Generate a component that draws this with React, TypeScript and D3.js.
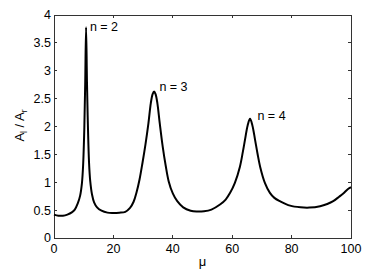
import React from 'react';
import * as d3 from 'd3';

// μ values and ratio A_l / A_r
const muValues = [
  0, 1.5, 3, 4.5, 6, 7, 8, 8.8, 9.4, 9.8, 10.2, 10.5, 10.8, 11.1, 11.4, 11.8, 12.2, 12.8, 13.5, 14.5, 16, 18, 20,
  22, 24, 25.6, 26.8, 27.8, 28.8, 29.8, 30.8, 31.8, 32.6, 33.2, 33.7, 34.2, 34.8, 35.6, 36.6, 37.6, 38.6, 40,
  41.5, 43.5, 46, 48, 50.5, 53, 55.9, 57.8, 59.3, 60.9, 62.6, 63.6, 64.3, 65.2, 66, 66.8, 67.7, 68.5, 69.4,
  71, 72.7, 74.2, 76.1, 79.5, 83, 86, 89.6, 92, 94, 96, 97.4, 99, 100,
];
const ratioValues = [
  0.42, 0.40, 0.40, 0.42, 0.46, 0.51, 0.62, 0.76, 0.98, 1.3, 1.95, 2.75, 3.78, 2.8, 2.05, 1.35, 1.02, 0.78, 0.64, 0.55, 0.49, 0.455, 0.45,
  0.455, 0.47, 0.54, 0.65, 0.82, 1.05, 1.35, 1.68, 2.06, 2.42, 2.58, 2.63, 2.58, 2.42, 2.06, 1.64, 1.3, 1.02, 0.8,
  0.66, 0.55, 0.49, 0.475, 0.48, 0.51, 0.6, 0.69, 0.81, 0.99, 1.28, 1.55, 1.76, 2.02, 2.14, 2.02, 1.76, 1.52, 1.28,
  0.99, 0.81, 0.72, 0.66, 0.58, 0.55, 0.545, 0.57, 0.61, 0.66, 0.74, 0.8, 0.88, 0.91,
];

const peakLabels = ['n = 2', 'n = 3', 'n = 4'];
const labelMu = [12.1, 35.5, 68.5];
const labelRatio = [3.79, 2.72, 2.19];

const xTicks = [0, 20, 40, 60, 80, 100];
const yTicks = [0, 0.5, 1, 1.5, 2, 2.5, 3, 3.5, 4];

const W = 382;
const H = 278;
const m = { left: 54, right: 31, top: 15, bottom: 40 };
const font = 'Liberation Sans, Arial, sans-serif';

export default function App() {
  const x = d3.scaleLinear().domain([0, 100]).range([m.left, W - m.right]);
  const y = d3.scaleLinear().domain([0, 4]).range([H - m.bottom, m.top]);

  const pts: [number, number][] = muValues.map((mu, i) => [mu, ratioValues[i]]);
  const line = d3
    .line<[number, number]>()
    .x(d => x(d[0]))
    .y(d => y(d[1]))
    .curve(d3.curveCatmullRom.alpha(0.5));

  const x0 = x(0), x1 = x(100), y0 = y(0), y1 = y(4);
  const tick = 3;
  const axisColor = '#333';
  const fs = 12.5;

  return (
    <svg width={W} height={H} style={{ position: 'absolute', left: 0, top: 0, background: '#fff' }}>
      {/* box */}
      <rect x={x0} y={y1} width={x1 - x0} height={y0 - y1} fill="none" stroke={axisColor} strokeWidth={1} shapeRendering="crispEdges" />
      {xTicks.map(t => (
        <g key={'x' + t}>
          <line x1={x(t)} x2={x(t)} y1={y0} y2={y0 - tick} stroke={axisColor} shapeRendering="crispEdges" />
          <line x1={x(t)} x2={x(t)} y1={y1} y2={y1 + tick} stroke={axisColor} shapeRendering="crispEdges" />
          <text x={x(t)} y={y0 + 15} textAnchor="middle" fontFamily={font} fontSize={fs}>{t}</text>
        </g>
      ))}
      {yTicks.map(t => (
        <g key={'y' + t}>
          <line x1={x0} x2={x0 + tick} y1={y(t)} y2={y(t)} stroke={axisColor} shapeRendering="crispEdges" />
          <line x1={x1} x2={x1 - tick} y1={y(t)} y2={y(t)} stroke={axisColor} shapeRendering="crispEdges" />
          <text x={x0 - 3} y={y(t)} dy="0.35em" textAnchor="end" fontFamily={font} fontSize={fs}>{t}</text>
        </g>
      ))}
      <path d={line(pts) || ''} fill="none" stroke="#000" strokeWidth={2} strokeLinejoin="round" />
      {peakLabels.map((l, i) => (
        <text key={l} x={x(labelMu[i])} y={y(labelRatio[i])} dy="0.35em" fontFamily={font} fontSize={fs}>{l}</text>
      ))}
      <text x={(x0 + x1) / 2} y={H - 12} textAnchor="middle" fontFamily={font} fontSize={13}>μ</text>
      <text transform={`translate(24,${(y0 + y1) / 2 - 1}) rotate(-90)`} textAnchor="middle" fontFamily={font} fontSize={13}>
        A<tspan fontSize={8.5} dy={3}>l</tspan>
        <tspan dy={-3}> / A</tspan>
        <tspan fontSize={8.5} dy={3}>r</tspan>
      </text>
    </svg>
  );
}
